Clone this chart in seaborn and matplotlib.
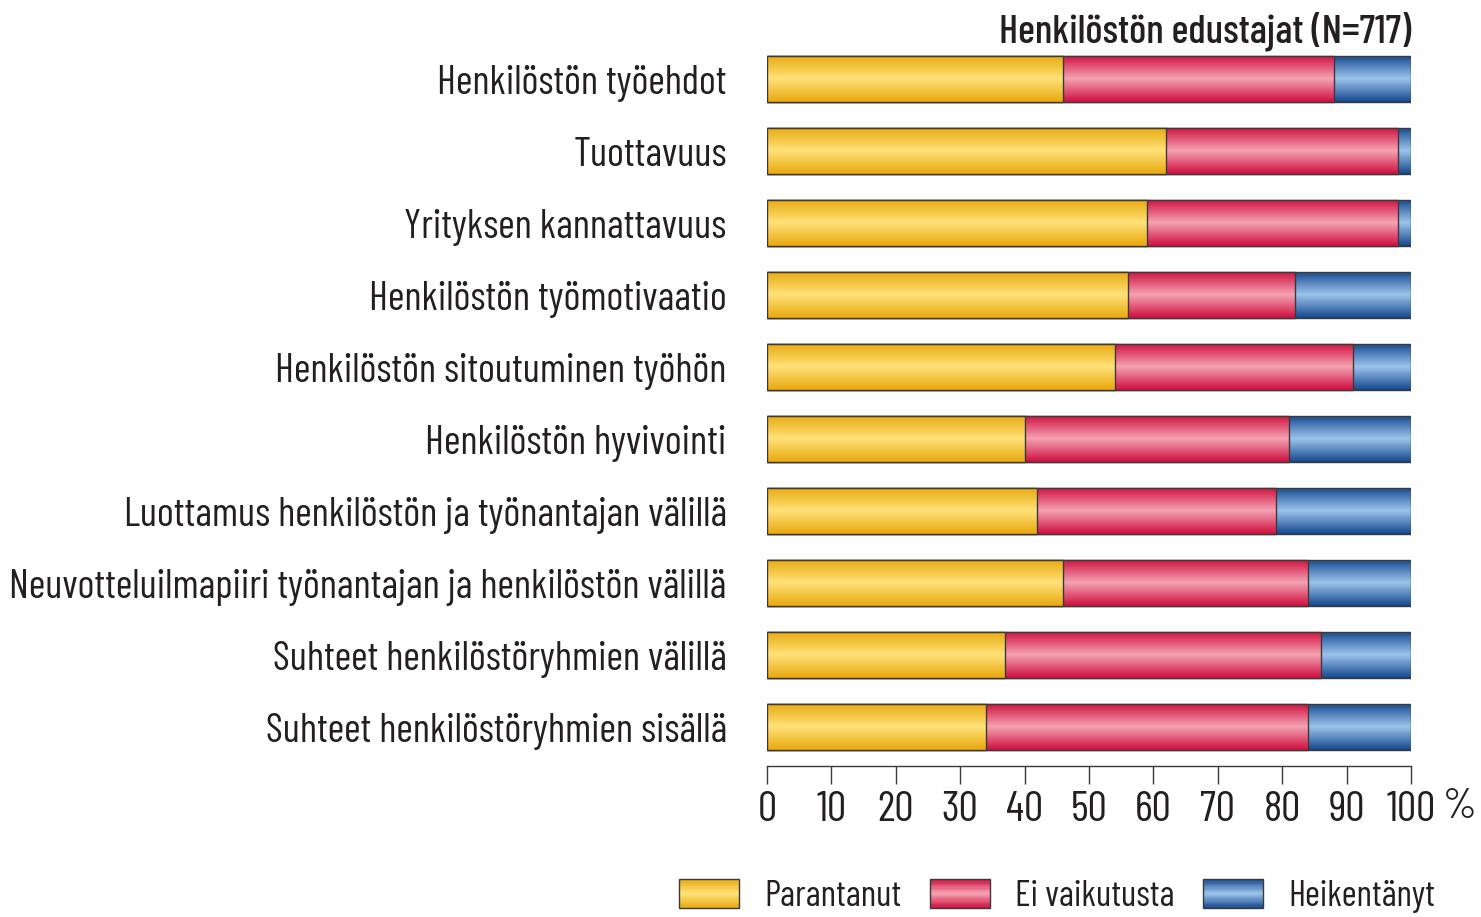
import numpy as np
import pandas as pd
import matplotlib
matplotlib.use("Agg")
import matplotlib.pyplot as plt
from matplotlib.colors import LinearSegmentedColormap
from matplotlib.legend_handler import HandlerBase
from matplotlib.patches import Rectangle
import seaborn as sns

sns.set_theme(style="white")
plt.rcParams["font.family"] = ["Barlow Condensed", "Open Sans", "DejaVu Sans"]

# ── data ─────────────────────────────────────────────────────────────────────
CATEGORIES = [
    "Henkilöstön työehdot",
    "Tuottavuus",
    "Yrityksen kannattavuus",
    "Henkilöstön työmotivaatio",
    "Henkilöstön sitoutuminen työhön",
    "Henkilöstön hyvivointi",
    "Luottamus henkilöstön ja työnantajan välillä",
    "Neuvotteluilmapiiri työnantajan ja henkilöstön välillä",
    "Suhteet henkilöstöryhmien välillä",
    "Suhteet henkilöstöryhmien sisällä",
]
PARANTANUT = [46, 62, 59, 56, 54, 40, 42, 46, 37, 34]
EI_VAIKUTUSTA = [42, 36, 39, 26, 37, 41, 37, 38, 49, 50]
HEIKENTANYT = [12, 2, 2, 18, 9, 19, 21, 16, 14, 16]

SERIES = ["Parantanut", "Ei vaikutusta", "Heikentänyt"]
TICKS = [0, 10, 20, 30, 40, 50, 60, 70, 80, 90, 100]
TITLE = "Henkilöstön edustajat (N=717)"

# edge colour, centre colour of the bar gradient
GRAD = {
    "Parantanut":    ("#e8a90e", "#ffe27a"),
    "Ei vaikutusta": ("#cf1040", "#f5a3b3"),
    "Heikentänyt":   ("#17498f", "#9cc4ec"),
}
TEXT = "#231f20"
EDGE = "#3a3a3a"

df = pd.DataFrame({
    "kategoria": CATEGORIES,
    "Parantanut": PARANTANUT,
    "Ei vaikutusta": EI_VAIKUTUSTA,
    "Heikentänyt": HEIKENTANYT,
})
cum = df[SERIES].cumsum(axis=1)
cum["kategoria"] = df["kategoria"]


def grad_cmap(name):
    dark, light = GRAD[name]
    return LinearSegmentedColormap.from_list(name, [dark, light, dark])


GRADIENT = np.linspace(0, 1, 64).reshape(-1, 1)

fig = plt.figure(figsize=(14.81, 9.17), dpi=100)
ax = fig.add_axes([767 / 1481, 1 - 763 / 917, 644 / 1481, 720 / 917])

# draw cumulative totals back to front so the stack reads left to right
base_z = 2
for name in reversed(SERIES):
    n_before = len(ax.patches)
    sns.barplot(data=cum, x=name, y="kategoria", order=CATEGORIES, orient="h",
                width=0.64, color="white", ax=ax)
    cmap = grad_cmap(name)
    for p in ax.patches[n_before:]:
        x0, y0 = p.get_x(), p.get_y()
        w, h = p.get_width(), p.get_height()
        p.set_facecolor("none")
        p.set_edgecolor(EDGE)
        p.set_linewidth(1.0)
        p.set_zorder(base_z + 1)
        im = ax.imshow(GRADIENT, cmap=cmap, aspect="auto",
                       extent=(x0, x0 + w, y0 + h, y0), zorder=base_z,
                       interpolation="bilinear")
        im.set_clip_path(p)
    base_z += 2

ax.set_xlim(0, 100)
ax.set_ylim(len(CATEGORIES) - 0.5, -0.5)
ax.set_xlabel("")
ax.set_ylabel("")
ax.set_xticks(TICKS)
ax.set_xticklabels([str(t) for t in TICKS])
ax.tick_params(axis="x", direction="out", length=13, width=1.0, color=EDGE,
               pad=5, bottom=True, labelsize=31, labelcolor=TEXT)
ax.tick_params(axis="y", length=0, pad=29, labelsize=29, labelcolor=TEXT)
for s in ["left", "top", "right"]:
    ax.spines[s].set_visible(False)
ax.spines["bottom"].set_color(EDGE)
ax.spines["bottom"].set_linewidth(1.0)
ax.spines["bottom"].set_position(("outward", 2))

ax.text(1.075, -0.035, "%", transform=ax.transAxes, ha="center", va="top",
        fontsize=31, color=TEXT)
ax.text(1.0, 1.016, TITLE, transform=ax.transAxes, ha="right", va="center",
        fontsize=29, fontweight="medium", color=TEXT)


class GradientHandler(HandlerBase):
    def __init__(self, name):
        super().__init__()
        self.name = name

    def create_artists(self, legend, orig_handle, xdescent, ydescent,
                       width, height, fontsize, trans):
        cmap = grad_cmap(self.name)
        n = 24
        arts = []
        for i in range(n):
            r = Rectangle((-xdescent, -ydescent + height * i / n), width, height / n,
                          facecolor=cmap((i + 0.5) / n), edgecolor="none",
                          transform=trans)
            arts.append(r)
        arts.append(Rectangle((-xdescent, -ydescent), width, height,
                              facecolor="none", edgecolor=EDGE, linewidth=1.0,
                              transform=trans))
        return arts


handles = [Rectangle((0, 0), 1, 1) for _ in SERIES]
fig.legend(handles, SERIES, loc="center",
           bbox_to_anchor=(1057 / 1481, 1 - 896 / 917), ncol=3, frameon=False,
           fontsize=26, labelcolor=TEXT, handlelength=1.65, handleheight=0.85,
           handletextpad=0.7, columnspacing=0.8,
           handler_map={h: GradientHandler(n) for h, n in zip(handles, SERIES)})

fig.savefig("out.png", dpi=100)
